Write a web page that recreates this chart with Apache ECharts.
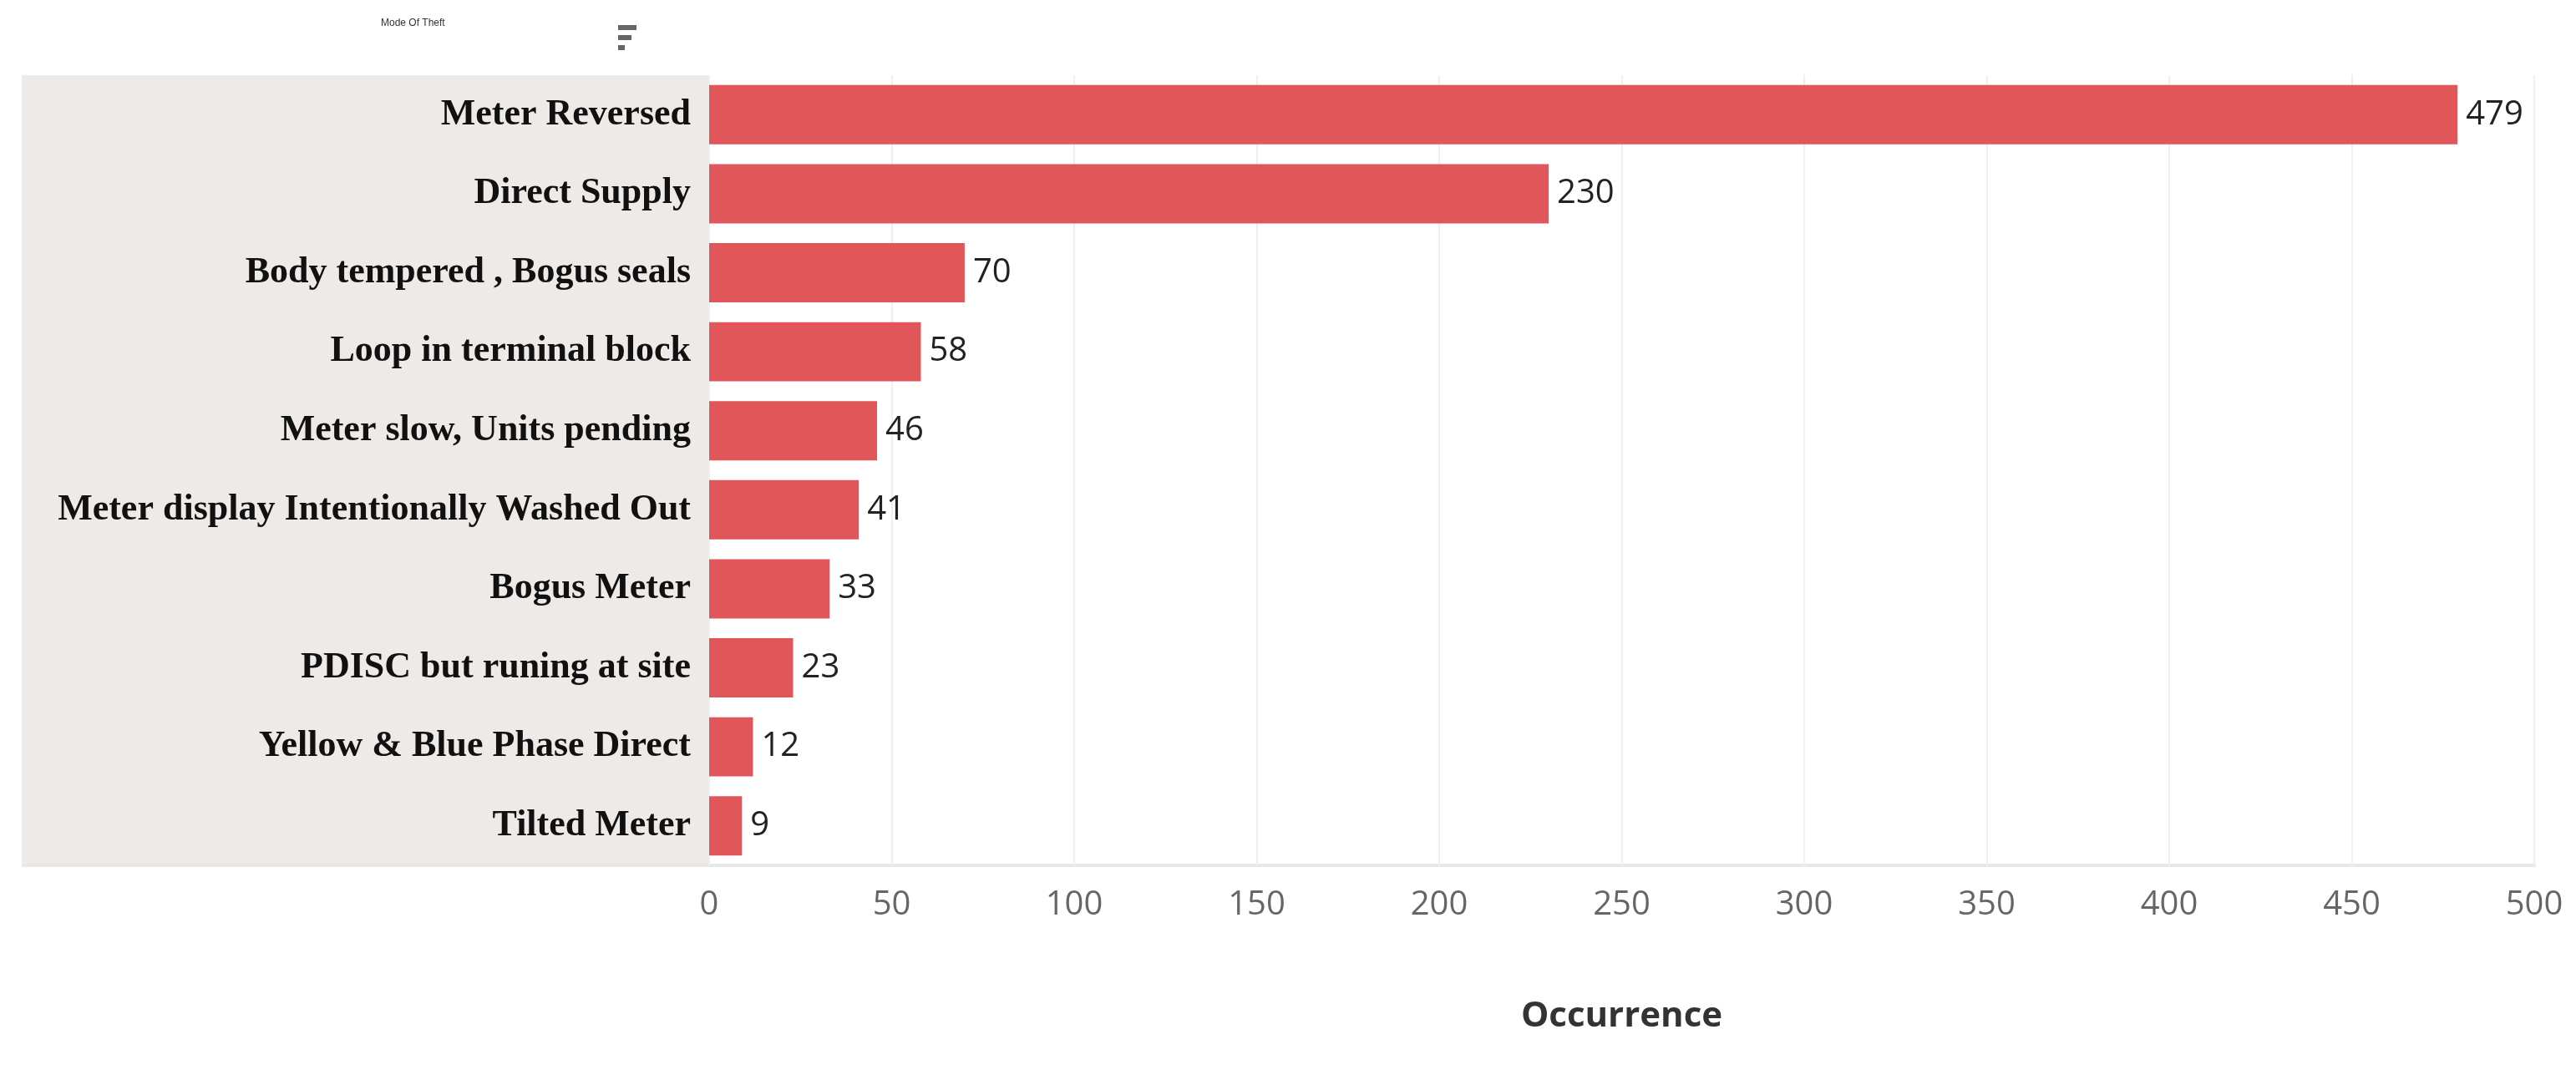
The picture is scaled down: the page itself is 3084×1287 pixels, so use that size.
<!DOCTYPE html>
<html><head><meta charset="utf-8">
<script src="https://cdn.jsdelivr.net/npm/echarts@6/dist/echarts.min.js"></script>
<style>html,body{margin:0;padding:0;background:#fff}#c{width:3084px;height:1287px}</style>
</head><body><div id="c"></div>
<script>
const categories = ["Meter Reversed","Direct Supply","Body tempered , Bogus seals","Loop in terminal block","Meter slow, Units pending","Meter display Intentionally Washed Out","Bogus Meter","PDISC but runing at site","Yellow & Blue Phase Direct","Tilted Meter"];
const values = [479,230,70,58,46,41,33,23,12,9];
const xTicks = [0,50,100,150,200,250,300,350,400,450,500];
const chart = echarts.init(document.getElementById('c'));
chart.setOption({
  animation:false,
  graphic:[
    {type:'rect',shape:{x:26,y:90,width:823,height:946},style:{fill:'#EEEAE7'},z:-10},
    {type:'text',left:456,top:22,style:{text:'Mode Of Theft',font:'bold 42px "Open Sans"',fill:'#333'},},
    {type:'rect',shape:{x:740,y:30,width:22,height:6},style:{fill:'#666'}},
    {type:'rect',shape:{x:740,y:42,width:16,height:6},style:{fill:'#666'}},
    {type:'rect',shape:{x:740,y:54,width:8,height:6},style:{fill:'#666'}}
  ],
  grid:{left:849,right:50,top:90,bottom:251},
  xAxis:{type:'value',min:0,max:500,interval:50,
    name:'Occurrence',nameLocation:'middle',nameGap:160,
    nameTextStyle:{fontSize:42,fontWeight:'bold',color:'#333',fontFamily:'Open Sans'},
    axisLabel:{fontSize:40,color:'#666',margin:28,fontFamily:'Open Sans',formatter:v=>xTicks.includes(v)?String(v):''},
    splitLine:{show:true,lineStyle:{color:'#EFEFEF',width:2}},
    axisLine:{show:false},axisTick:{show:false}},
  yAxis:{type:'category',data:categories,inverse:true,
    axisLabel:{fontSize:44,fontWeight:'bold',color:'#111',fontFamily:'Liberation Serif',margin:22},
    axisLine:{show:true,lineStyle:{color:'#E8E8E8',width:3}},axisTick:{show:false},
    splitLine:{show:false}},
  series:[{type:'bar',data:values,barCategoryGap:'25%',
    itemStyle:{color:'#E15759'},
    label:{show:true,position:'right',distance:10,fontSize:40,color:'#222',fontFamily:'Open Sans'}}]
});
// move bottom axis line: y axis line at left; draw bottom line via graphic
chart.setOption({yAxis:{axisLine:{show:false}},graphic:[{},{},{},{},{},{type:'rect',shape:{x:26,y:1034,width:3010,height:4},style:{fill:'#E8E8E8'}}]});
</script></body></html>
